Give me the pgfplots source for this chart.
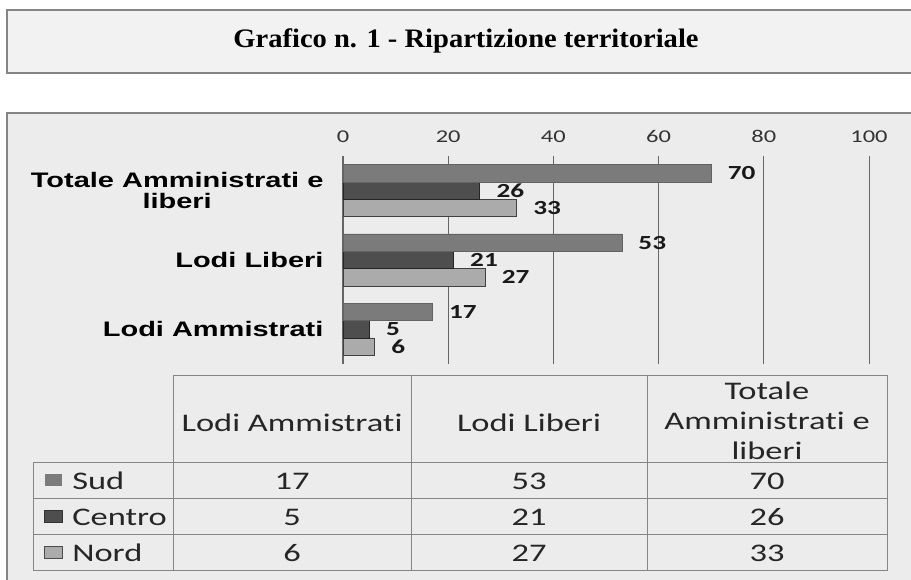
\documentclass[border=0pt]{standalone}
\usepackage{pgfplots}
\pgfplotsset{compat=1.18}
\usepackage{graphicx}
\usepackage{fontspec}
\setmainfont{Liberation Serif}
\newfontfamily\calib[Ligatures=NoCommon]{Carlito}
\newfontfamily\arial{Liberation Sans}
% the pasted chart is stretched sideways
\newcommand\wide[1]{\scalebox{1.36}[1]{#1}}
\newcommand\wcat[1]{\scalebox{1.38}[1]{#1}}

\definecolor{sud}{HTML}{7B7B7B}
\definecolor{centro}{HTML}{4E4E4E}
\definecolor{nord}{HTML}{ABABAB}
\definecolor{panel}{HTML}{ECECEC}
\definecolor{rule}{HTML}{858585}

\begin{document}
\begin{tikzpicture}
\begin{scope}[x=0.75pt,y=-0.75pt]
  \useasboundingbox (0,0) rectangle (911,580);
  \begin{scope}
    \clip (0,0) rectangle (911,580);
    \fill[white] (0,0) rectangle (911,580);
    \draw[rule, fill=black!5, line width=0.8pt] (7,10) rectangle (920,73);
    \draw[rule, fill=panel, line width=0.8pt] (7,113) rectangle (920,590);
  \end{scope}
  \node[font=\bfseries\fontsize{20}{22}\selectfont] at (466,41) {\scalebox{1.07}[1]{Grafico n. 1 - Ripartizione territoriale}};

  % data table below the chart
  \begin{scope}[rule, line width=0.6pt]
    \draw (173,375) -- (887,375) -- (887,570) -- (33,570) -- (33,462) -- (887,462);
    \draw (173,375) -- (173,570) (411,375) -- (411,570) (647,375) -- (647,570);
    \draw (33,498) -- (887,498) (33,534) -- (887,534);
  \end{scope}
  \begin{scope}[every node/.style={font=\calib\fontsize{19}{22.5}\selectfont, text=black!85, inner sep=0pt}]
    \node at (292,423) {\wide{Lodi Ammistrati}};
    \node at (529,423) {\wide{Lodi Liberi}};
    \node[align=center] at (767,421) {\wide{Totale}\\\wide{Amministrati e}\\\wide{liberi}};
    \node at (292,481) {\wide{17}}; \node at (529,481) {\wide{53}}; \node at (767,481) {\wide{70}};
    \node at (292,517) {\wide{5}};  \node at (529,517) {\wide{21}}; \node at (767,517) {\wide{26}};
    \node at (292,553) {\wide{6}};  \node at (529,553) {\wide{27}}; \node at (767,553) {\wide{33}};
    \node[anchor=west] at (72,481) {\wide{Sud}};
    \node[anchor=west] at (72,517) {\wide{Centro}};
    \node[anchor=west] at (72,553) {\wide{Nord}};
  \end{scope}
  \fill[sud] (45,474) rectangle (62,486);
  \draw[black!80, fill=centro, line width=0.5pt] (44,510) rectangle (62,522);
  \draw[black!70, fill=nord, line width=0.5pt] (44,546) rectangle (62,558);
\end{scope}

\begin{axis}[
    at={(257.25pt,-273pt)}, anchor=south west,
    scale only axis, width=394.5pt, height=156pt,
    xbar=0pt, bar width=13pt,
    xmin=0, xmax=100,
    xtick={0,20,40,60,80,100},
    xticklabels={\wide{0},\wide{20},\wide{40},\wide{60},\wide{80},\wide{100}},
    ymin=-0.5, ymax=2.5,
    ytick={0,1,2},
    yticklabels={{\wcat{Lodi Ammistrati}},{\wcat{Lodi Liberi}},{\wcat{Totale Amministrati e}\\\wcat{liberi}}},
    axis x line=top, axis y line=left,
    x axis line style={draw=none},
    y axis line style={-, black!60, line width=1.2pt},
    tick style={draw=none},
    xmajorgrids,
    major grid style={black!60, line width=0.7pt},
    xticklabel style={font=\calib\fontsize{13.5}{15}\selectfont, text=black!80, yshift=4pt},
    yticklabel style={font=\arial\bfseries\fontsize{15.75}{15.75}\selectfont, align=center, xshift=-9pt},
    point meta=x,
    nodes near coords={\wide{\pgfmathprintnumber[assume math mode=true]{\pgfplotspointmeta}}},
    nodes near coords align={horizontal},
    every node near coord/.append style={font=\calib\bfseries\fontsize{15}{17}\selectfont, text=black!90, anchor=west, xshift=9pt},
]
\addplot[draw=black!75, fill=nord, line width=0.5pt] coordinates {(6,0) (27,1) (33,2)};
\addplot[draw=black!85, fill=centro, line width=0.5pt] coordinates {(5,0) (21,1) (26,2)};
\addplot[draw=sud!80!black, fill=sud, line width=0.4pt] coordinates {(17,0) (53,1) (70,2)};
\draw[black!45, line width=0.6pt] (axis cs:0,-0.5) -- (axis cs:100,-0.5);
\end{axis}
\end{tikzpicture}
\end{document}
